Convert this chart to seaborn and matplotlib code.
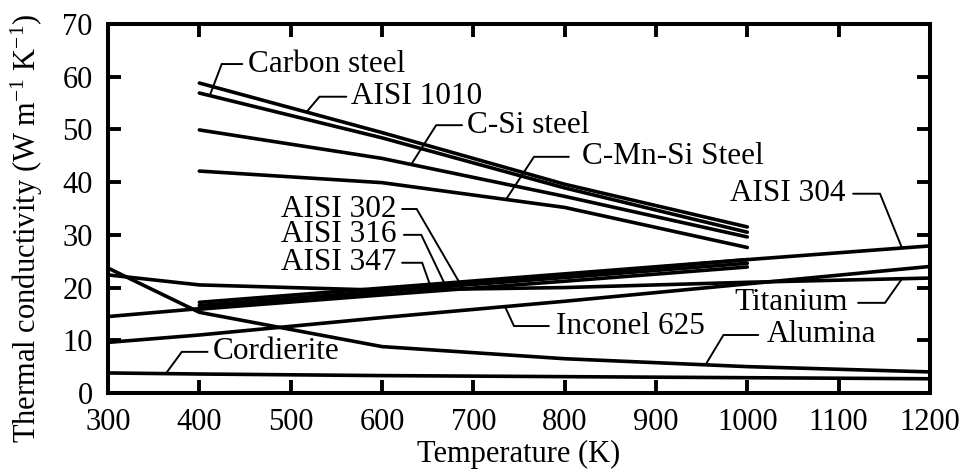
import numpy as np
import pandas as pd
import matplotlib
matplotlib.use("Agg")
import matplotlib.pyplot as plt
import seaborn as sns

# Thermal conductivity (W m^-1 K^-1) versus temperature (K)
t_steels = [400, 600, 800, 1000]
aisi1010 = [58.8, 49.4, 39.6, 31.5]
carbon_steel = [56.9, 48.4, 38.9, 30.5]
c_si_steel = [49.9, 44.5, 37.3, 29.6]
c_mn_si_steel = [42.1, 39.9, 35.2, 27.6]
aisi302 = [17.2, 19.9, 22.6, 25.3]
aisi316 = [16.6, 19.3, 21.9, 24.6]
aisi347 = [15.9, 18.6, 21.2, 23.9]

t_wide = [300, 400, 600, 800, 1000, 1200]
aisi304 = [14.5, 16.0, 19.2, 22.3, 25.3, 27.9]
inconel625 = [9.6, 11.0, 14.3, 17.4, 20.7, 24.0]
titanium = [22.4, 20.5, 19.5, 20.0, 21.0, 21.8]
alumina = [23.7, 15.3, 8.8, 6.5, 5.0, 4.0]
cordierite = [3.8, 3.6, 3.3, 3.1, 2.9, 2.7]

series = {
    "AISI 1010": (t_steels, aisi1010),
    "Carbon steel": (t_steels, carbon_steel),
    "C-Si steel": (t_steels, c_si_steel),
    "C-Mn-Si Steel": (t_steels, c_mn_si_steel),
    "AISI 302": (t_steels, aisi302),
    "AISI 316": (t_steels, aisi316),
    "AISI 347": (t_steels, aisi347),
    "AISI 304": (t_wide, aisi304),
    "Inconel 625": (t_wide, inconel625),
    "Titanium": (t_wide, titanium),
    "Alumina": (t_wide, alumina),
    "Cordierite": (t_wide, cordierite),
}

df = pd.concat(
    [pd.DataFrame({"T": t, "k": k, "material": name}) for name, (t, k) in series.items()],
    ignore_index=True,
)

# Label placement: (text x, text y, alignment, elbow start x, elbow end x, anchor x on curve)
labels = [
    ("Carbon steel", 452.9, 62.4, "left", 447.0, 424.5, 411.4),
    ("AISI 1010", 566.5, 56.2, "left", 561.0, 531.5, 517.3),
    ("C-Si steel", 693.0, 50.8, "left", 687.7, 659.3, 632.0),
    ("C-Mn-Si Steel", 818.8, 44.8, "left", 804.6, 766.4, 735.8),
    ("AISI 304", 1108.0, 37.8, "right", 1115.9, 1145.3, 1169.4),
    ("AISI 302", 615.6, 34.9, "right", 622.0, 638.0, 684.5),
    ("AISI 316", 615.6, 30.0, "right", 624.0, 643.0, 670.0),
    ("AISI 347", 615.6, 24.7, "right", 622.0, 644.0, 655.0),
    ("Titanium", 1110.4, 17.1, "right", 1121.3, 1150.8, 1169.4),
    ("Inconel 625", 790.4, 12.7, "left", 782.7, 744.5, 734.7),
    ("Alumina", 1020.8, 11.0, "left", 1012.0, 973.9, 954.2),
    ("Cordierite", 414.7, 7.8, "left", 409.0, 380.8, 363.3),
]

sns.set_theme(style="ticks")
plt.rcParams["font.family"] = ["Liberation Serif", "DejaVu Serif"]
plt.rcParams["mathtext.fontset"] = "custom"
plt.rcParams["mathtext.rm"] = "Liberation Serif"
plt.rcParams["mathtext.it"] = "Liberation Serif:italic"
plt.rcParams["text.color"] = "black"
plt.rcParams["axes.labelcolor"] = "black"
plt.rcParams["xtick.color"] = "black"
plt.rcParams["ytick.color"] = "black"

fig = plt.figure(figsize=(9.61, 4.72), dpi=100)
ax = fig.add_axes([0.1124, 0.1674, 0.8553, 0.7818])

sns.lineplot(
    data=df, x="T", y="k", hue="material", units="material",
    estimator=None, sort=False, legend=False,
    palette=["black"] * len(series), linewidth=2.6, ax=ax,
)

fs_note = 22.5
fs_axis = 22
for text, tx, ty, ha, x1, x2, xa in labels:
    t, k = series[text]
    ya = float(np.interp(xa, t, k))
    ax.plot([x1, x2, xa], [ty, ty, ya], color="black", linewidth=1.4,
            solid_joinstyle="miter")
    ax.text(tx, ty, text, ha=ha, va="center", fontsize=fs_note, color="black")

ax.set_xlim(300, 1200)
ax.set_ylim(0, 70)
ax.set_xticks(np.arange(300, 1201, 100))
ax.set_yticks(np.arange(0, 71, 10))
ax.set_xlabel("Temperature (K)", fontsize=fs_axis, labelpad=2)
ax.set_ylabel(r"Thermal conductivity (W m$^{\mathregular{-1}}$ K$^{\mathregular{-1}}$)",
              fontsize=fs_axis)
ax.yaxis.set_label_coords(-0.077, 0.445)
ax.tick_params(axis="both", direction="in", length=9.5, width=2.8, labelsize=fs_axis,
               top=True, right=True, colors="black")
ax.tick_params(axis="x", pad=11)
ax.tick_params(axis="y", pad=11)
for s in ax.spines.values():
    s.set_linewidth(2.9)
    s.set_color("black")
    s.set_visible(True)

fig.savefig("out.png", dpi=100)
